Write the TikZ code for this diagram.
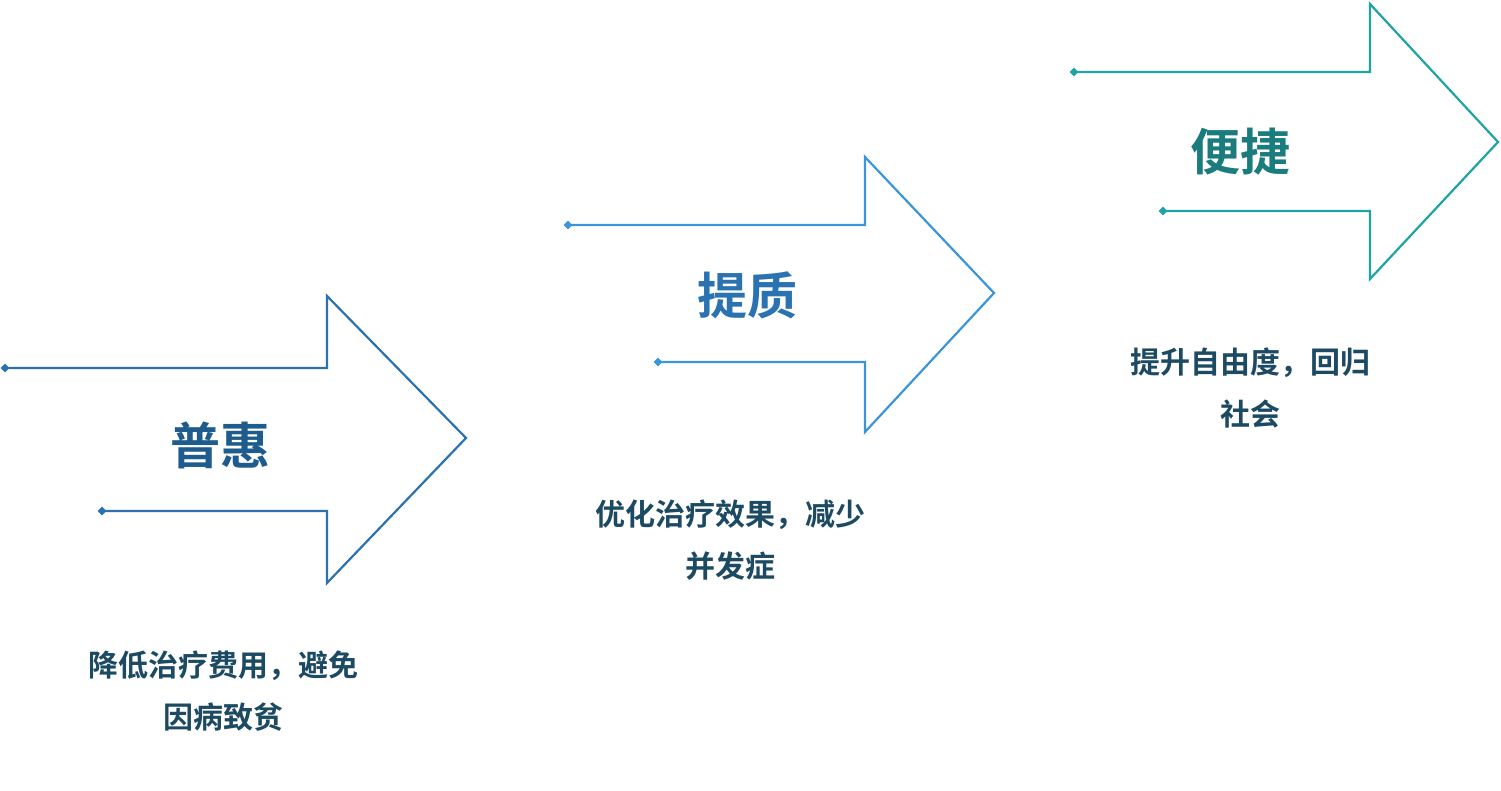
\documentclass[tikz,border=0pt]{standalone}
\usepackage{fontspec}
\setmainfont{Noto Sans CJK SC}[BoldFont={* Bold}]
\usetikzlibrary{shapes.geometric}
\definecolor{blueA}{HTML}{2A72B0}
\definecolor{blueB}{HTML}{3A96D9}
\definecolor{tealC}{HTML}{1FA3A3}
\definecolor{titA}{HTML}{1F5C8E}
\definecolor{titB}{HTML}{2A72B0}
\definecolor{titC}{HTML}{1A7C7C}
\definecolor{txt}{HTML}{1D4A63}
\tikzstyle{punta}= [diamond,inner sep=0pt,minimum size=9pt]
\tikzstyle{flecha}= [line width=2.2pt,line join=miter]
\tikzstyle{titulo}= [font=\bfseries\fontsize{50}{56}\selectfont]
\tikzstyle{texto}= [font=\bfseries\fontsize{30}{52}\selectfont,text=txt,align=center]

\begin{document}
\begin{tikzpicture}[x=1pt,y=-1pt]
		\useasboundingbox (0,0) rectangle (1501,791);

		\node (a1) at (5,368) [punta,fill=blueA] {};
		\node (a2) at (102,511) [punta,fill=blueA] {};
		\draw[flecha,blueA] (a1.center) -- (327,368) -- (327,296) -- (466,438) -- (327,583) -- (327,511) -- (a2.center);
		\node (t1) at (220,445) [titulo,text=titA] {普惠};
		\node (d1) at (223,691) [texto] {降低治疗费用，避免\\因病致贫};

		\node (b1) at (568,225) [punta,fill=blueB] {};
		\node (b2) at (658,362) [punta,fill=blueB] {};
		\draw[flecha,blueB] (b1.center) -- (865,225) -- (865,157) -- (994,293) -- (865,432) -- (865,362) -- (b2.center);
		\node (t2) at (747,295) [titulo,text=titB] {提质};
		\node (d2) at (730,540) [texto] {优化治疗效果，减少\\并发症};

		\node (c1) at (1074,72) [punta,fill=tealC] {};
		\node (c2) at (1163,211) [punta,fill=tealC] {};
		\draw[flecha,tealC] (c1.center) -- (1370,72) -- (1370,4) -- (1498,142) -- (1370,279) -- (1370,211) -- (c2.center);
		\node (t3) at (1240,152) [titulo,text=titC] {便捷};
		\node (d3) at (1250,388) [texto] {提升自由度，回归\\社会};

	\end{tikzpicture}
\end{document}
